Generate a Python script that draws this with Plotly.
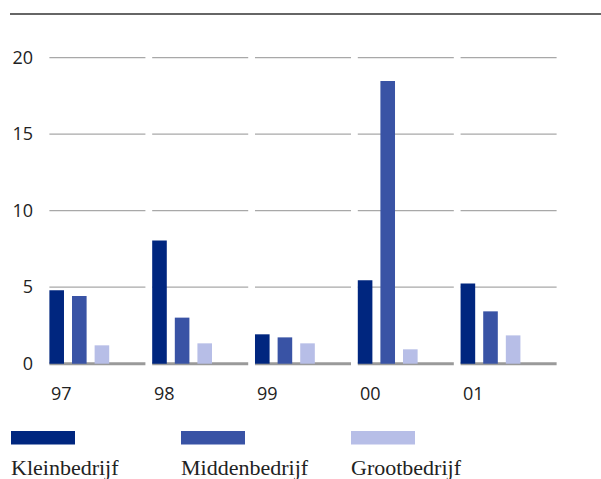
import plotly.graph_objects as go

# data
years = ["97", "98", "99", "00", "01"]
kleinbedrijf = [4.8, 8.05, 1.92, 5.45, 5.24]
middenbedrijf = [4.42, 3.01, 1.72, 18.47, 3.42]
grootbedrijf = [1.2, 1.33, 1.33, 0.94, 1.85]
series_names = ["Kleinbedrijf", "Middenbedrijf", "Grootbedrijf"]
colors = ["#00267f", "#3953a5", "#b7bee7"]
yticks = [0, 5, 10, 15, 20]

W, H = 601, 479
ML, MR, MT, MB = 46, 41, 27, 100
PW = W - ML - MR
PH = H - MT - MB


def px_x(p):
    # pixel -> paper x
    return (p - ML) / PW


def px_y(p):
    # pixel -> paper y
    return (H - MB - p) / PH


half = 0.467        # half width of a group segment (data units)
bar_w = 0.142
step = 0.22

fig = go.Figure()
x = list(range(len(years)))
for k, (name, vals) in enumerate(zip(series_names, [kleinbedrijf, middenbedrijf, grootbedrijf])):
    fig.add_trace(go.Bar(
        x=x, y=vals, name=name,
        width=bar_w, offset=-half + k * step,
        marker=dict(color=colors[k], line=dict(width=0)),
        showlegend=False,
        hoverinfo="skip",
    ))

shapes = []
# segmented gridlines per year group
for i in x:
    for t in yticks:
        shapes.append(dict(
            type="line", xref="x", yref="y", layer="below",
            x0=i - half, x1=i + half, y0=t, y1=t,
            line=dict(color="#9a9a9a" if t == 0 else "#a8a8a8", width=3 if t == 0 else 1.4),
        ))

# top rule
shapes.append(dict(type="line", xref="paper", yref="paper",
                   x0=px_x(10), x1=px_x(601), y0=px_y(14), y1=px_y(14),
                   line=dict(color="#333333", width=1.4)))

annotations = []
# year labels, left aligned under each group
for i, yr in zip(x, years):
    annotations.append(dict(
        x=i - half, y=px_y(393), xref="x", yref="paper",
        text=yr, showarrow=False, xanchor="left", yanchor="middle",
        font=dict(family="Open Sans", size=18, color="#222222"),
    ))

# custom legend
leg_x = [11, 181, 351]
for lx, name, c in zip(leg_x, series_names, colors):
    shapes.append(dict(type="rect", xref="paper", yref="paper",
                       x0=px_x(lx), x1=px_x(lx + 64), y0=px_y(431), y1=px_y(444.5),
                       fillcolor=c, line=dict(width=0)))
    annotations.append(dict(
        x=px_x(lx - 2), y=px_y(467), xref="paper", yref="paper",
        text=name, showarrow=False, xanchor="left", yanchor="middle",
        font=dict(family="Liberation Serif", size=22, color="#222222"),
    ))

fig.update_layout(
    width=W, height=H,
    margin=dict(l=ML, r=MR, t=MT, b=MB),
    plot_bgcolor="white", paper_bgcolor="white",
    barmode="overlay",
    shapes=shapes, annotations=annotations,
    xaxis=dict(range=[-0.5, 4.5], showgrid=False, zeroline=False,
               showticklabels=False, showline=False),
    yaxis=dict(range=[-1, 22], tickvals=yticks, showgrid=False, zeroline=False,
               showline=False, ticks="", ticklabelstandoff=12,
               tickfont=dict(family="Open Sans", size=18, color="#222222")),
)

# drop the default body margin so the figure sits at the page's corner
fig.write_html("out.html", config={"displayModeBar": False},
               post_script="document.body.style.margin='0';")
